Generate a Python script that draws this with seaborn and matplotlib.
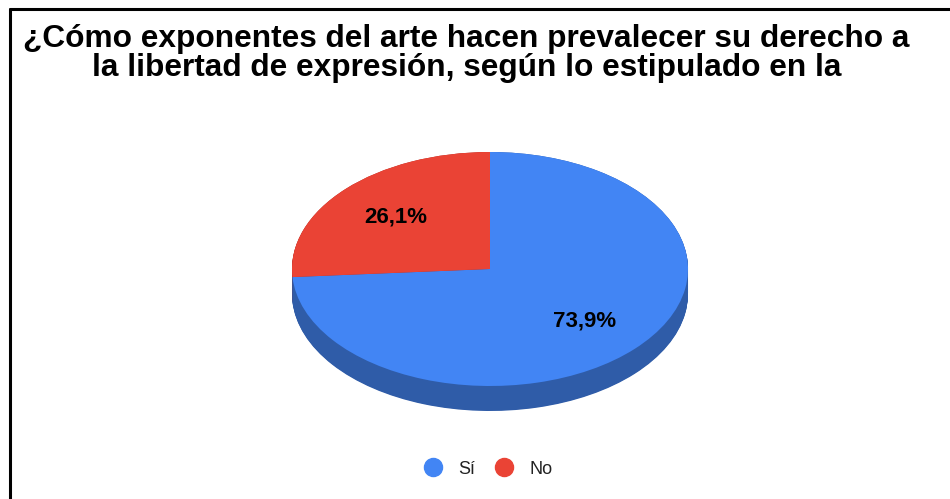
import numpy as np
import matplotlib
matplotlib.use("Agg")
import matplotlib.pyplot as plt
import seaborn as sns
from matplotlib.lines import Line2D

sns.set_theme(style="white")
plt.rcParams['font.family'] = ['Liberation Sans', 'DejaVu Sans']

# ---- data ----
categories = ["Sí", "No"]
values = [73.9, 26.1]
colors_top = ["#4285f4", "#ea4335"]
colors_side = ["#2f5ca8", "#a8302a"]
title_lines = ["¿Cómo exponentes del arte hacen prevalecer su derecho a",
               "la libertad de expresión, según lo estipulado en la"]

W, H = 950, 499
fig = plt.figure(figsize=(W / 100, H / 100), dpi=100)
fig.patch.set_facecolor("white")

# frame lines (top and left, as in the cropped screenshot)
fig.add_artist(Line2D([9.5 / W, 1.0], [1 - 9 / H, 1 - 9 / H], transform=fig.transFigure,
                      color="black", lw=2.2))
fig.add_artist(Line2D([10 / W, 10 / W], [0, 1 - 9 / H], transform=fig.transFigure,
                      color="black", lw=2.2))

# title
fig.text(466.5 / W, 1 - 47 / H, title_lines[0], ha="center", va="baseline",
         fontsize=22.8, fontweight="bold", color="black")
fig.text(466.5 / W, 1 - 76 / H, title_lines[1], ha="center", va="baseline",
         fontsize=22.8, fontweight="bold", color="black")

# pie geometry (pixels)
cx, cy = 490, 269
rx, ry = 198, 117
depth = 25
d_units = depth / ry

left = (cx - rx) / W
width = 2 * rx / W
bottom = (H - (cy + ry + depth)) / H
height = (2 * ry + depth) / H
ax = fig.add_axes([left, bottom, width, height])

# side (extruded layers)
for off in np.linspace(d_units, 0, 40):
    ax.pie(values, colors=colors_side, startangle=90, counterclock=False,
           center=(0, -off), radius=1, wedgeprops=dict(linewidth=0))

wedges, texts, autotexts = ax.pie(
    values, colors=colors_top, startangle=90, counterclock=False,
    center=(0, 0), radius=1,
    autopct=lambda p: f"{p:.1f}%".replace(".", ","), pctdistance=0.65,
    wedgeprops=dict(linewidth=0),
    textprops=dict(fontsize=16, fontweight="bold", color="black"))

ax.set_aspect("auto")
ax.set_xlim(-1, 1)
ax.set_ylim(-1 - d_units, 1)
ax.axis("off")

# legend
handles = [Line2D([0], [0], marker="o", linestyle="none", markersize=13,
                  markerfacecolor=c, markeredgecolor=c) for c in colors_top]
fig.legend(handles, categories, loc="center", bbox_to_anchor=(484 / W, 1 - 469 / H),
           ncol=2, frameon=False, fontsize=13, handletextpad=0.4, columnspacing=0.6,
           labelcolor="#222222")

fig.savefig("out.png", dpi=100, facecolor="white")
